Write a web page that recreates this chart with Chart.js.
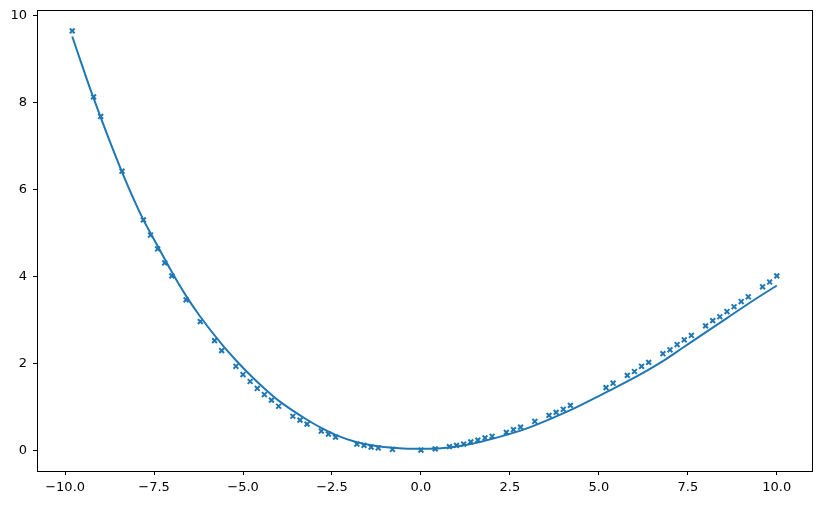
<!DOCTYPE html>
<html>
<head>
<meta charset="utf-8">
<script src="https://cdn.jsdelivr.net/npm/chart.js@4/dist/chart.umd.min.js"></script>
<style>
  html, body { margin: 0; padding: 0; background: #ffffff; }
  #wrap { width: 822px; height: 505px; }
</style>
</head>
<body>
<div id="wrap"><canvas id="c" width="822" height="505"></canvas></div>
<script>
// Scatter samples (x, y)
const sampleX = [-9.8, -9.2, -9.0, -8.4, -7.8, -7.6, -7.4, -7.2, -7.0, -6.6, -6.2, -5.8, -5.6, -5.2, -5.0, -4.8, -4.6, -4.4, -4.2, -4.0,
  -3.6, -3.4, -3.2, -2.8, -2.6, -2.4, -1.8, -1.6, -1.4, -1.2, -0.8, 0.0, 0.4, 0.8, 1.0, 1.2, 1.4, 1.6, 1.8, 2.0,
  2.4, 2.6, 2.8, 3.2, 3.6, 3.8, 4.0, 4.2, 5.2, 5.4, 5.8, 6.0, 6.2, 6.4, 6.8, 7.0, 7.2, 7.4, 7.6, 8.0,
  8.2, 8.4, 8.6, 8.8, 9.0, 9.2, 9.6, 9.8, 10.0];
const sampleY = [9.65, 8.13, 7.68, 6.42, 5.30, 4.95, 4.63, 4.31, 4.01, 3.46, 2.96, 2.52, 2.29, 1.93, 1.74, 1.58, 1.42, 1.28, 1.15, 1.01,
  0.78, 0.69, 0.60, 0.44, 0.37, 0.30, 0.14, 0.11, 0.07, 0.05, 0.02, 0.00, 0.03, 0.08, 0.11, 0.14, 0.19, 0.23, 0.28, 0.32,
  0.41, 0.47, 0.53, 0.66, 0.80, 0.87, 0.94, 1.03, 1.44, 1.54, 1.72, 1.81, 1.93, 2.02, 2.22, 2.31, 2.43, 2.54, 2.64, 2.86,
  2.98, 3.07, 3.19, 3.30, 3.42, 3.53, 3.76, 3.87, 4.01];

// Fitted curve (x, y)
const curveX = [-9.8, -9.2, -8.4, -7.8, -7.6, -7.0, -6.6, -6.2, -5.6, -5.2, -4.8, -4.4, -4.0, -3.6, -3.2, -2.8, -2.4, -1.8, -1.2, -0.5,
  0.2, 0.8, 1.4, 2.0, 2.8, 3.2, 4.2, 5.2, 5.8, 6.8, 7.4, 8.0, 8.6, 9.2, 10.0];
const curveY = [9.52, 8.10, 6.40, 5.30, 5.00, 4.10, 3.55, 3.07, 2.44, 2.07, 1.73, 1.42, 1.14, 0.91, 0.70, 0.51, 0.35, 0.18, 0.09, 0.04,
  0.03, 0.06, 0.14, 0.26, 0.45, 0.57, 0.92, 1.33, 1.58, 2.05, 2.38, 2.71, 3.04, 3.37, 3.79];

// Tick labels
const xTicks = [-10.0, -7.5, -5.0, -2.5, 0.0, 2.5, 5.0, 7.5, 10.0];
const yTicks = [0, 2, 4, 6, 8, 10];

const blue = '#1f77b4';
const fmtMinus = s => s.replace('-', '\u2212');

const frame = {
  id: 'frame',
  afterDraw(chart) {
    const { ctx, chartArea: a } = chart;
    ctx.save();
    ctx.strokeStyle = '#000';
    ctx.lineWidth = 1;
    ctx.strokeRect(Math.round(a.left) + 0.5, Math.round(a.top) + 0.5,
      Math.round(a.right - a.left), Math.round(a.bottom - a.top));
    ctx.restore();
  }
};

new Chart(document.getElementById('c'), {
  type: 'scatter',
  data: {
    datasets: [
      {
        label: 'samples',
        data: sampleX.map((x, i) => ({ x, y: sampleY[i] })),
        pointStyle: 'crossRot',
        pointRadius: 3.4,
        pointBorderWidth: 2,
        borderColor: blue,
        backgroundColor: blue,
        showLine: false,
        order: 0
      },
      {
        label: 'fit',
        data: curveX.map((x, i) => ({ x, y: curveY[i] })),
        showLine: true,
        borderColor: blue,
        borderWidth: 2,
        pointRadius: 0,
        cubicInterpolationMode: 'monotone',
        fill: false,
        order: 1
      }
    ]
  },
  options: {
    responsive: false,
    animation: false,
    devicePixelRatio: 1,
    layout: { padding: { top: 10, right: 10, left: 0, bottom: 0 } },
    plugins: { legend: { display: false }, tooltip: { enabled: false } },
    scales: {
      x: {
        type: 'linear',
        min: -10.79,
        max: 10.99,
        afterBuildTicks: s => { s.ticks = xTicks.map(v => ({ value: v })); },
        afterFit: s => { s.height = 34; s.paddingLeft = 0; s.paddingRight = 0; },
        border: { display: false },
        grid: { drawOnChartArea: false, drawTicks: true, tickLength: 4, tickColor: '#000', tickWidth: 1 },
        ticks: {
          color: '#000',
          padding: 5,
          maxRotation: 0,
          autoSkip: false,
          font: { family: 'DejaVu Sans', size: 13 },
          callback: v => fmtMinus(Number(v).toFixed(1))
        }
      },
      y: {
        type: 'linear',
        min: -0.48,
        max: 10.13,
        afterBuildTicks: s => { s.ticks = yTicks.map(v => ({ value: v })); },
        afterFit: s => { s.width = 37; s.paddingTop = 0; s.paddingBottom = 0; },
        border: { display: false },
        grid: { drawOnChartArea: false, drawTicks: true, tickLength: 4, tickColor: '#000', tickWidth: 1 },
        ticks: {
          color: '#000',
          padding: 6,
          autoSkip: false,
          font: { family: 'DejaVu Sans', size: 13 },
          callback: v => String(v)
        }
      }
    }
  },
  plugins: [frame]
});
</script>
</body>
</html>
